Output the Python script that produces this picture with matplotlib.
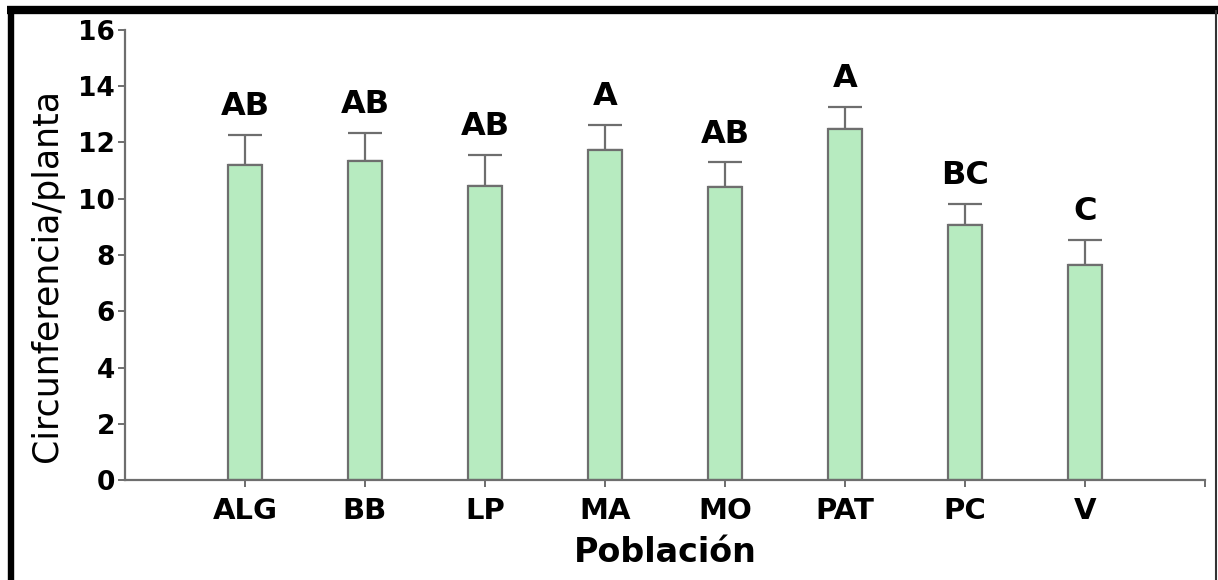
import numpy as np
import matplotlib.pyplot as plt
from matplotlib.lines import Line2D

# data
poblaciones = ['ALG', 'BB', 'LP', 'MA', 'MO', 'PAT', 'PC', 'V']
medias = [11.2, 11.35, 10.45, 11.72, 10.42, 12.48, 9.07, 7.64]
error_sup = [1.07, 0.99, 1.11, 0.90, 0.88, 0.78, 0.74, 0.89]
letras = ['AB', 'AB', 'AB', 'A', 'AB', 'A', 'BC', 'C']

plt.rcParams['font.family'] = ['DejaVu Sans']
plt.rcParams['font.weight'] = 'bold'

fig = plt.figure(figsize=(12.18, 5.8), dpi=100)
ax = fig.add_axes([0.1026, 0.1724, 0.8867, 0.7759])

x = np.arange(1, len(poblaciones) + 1)
gris = '#6e6e6e'
ax.bar(x, medias, width=0.29, color='#b7ebc0', edgecolor=gris, linewidth=1.6, zorder=2)
ax.errorbar(x, medias, yerr=[np.zeros(len(x)), error_sup], fmt='none',
            ecolor=gris, elinewidth=1.6, capsize=12.5, capthick=1.6, zorder=1)

for xi, m, e, l in zip(x, medias, error_sup, letras):
    ax.text(xi, m + e + 0.45, l, ha='center', va='bottom', fontsize=23,
            fontweight='bold')

ax.set_xlim(0, 9)
ax.set_ylim(0, 16)
ax.set_yticks(np.arange(0, 17, 2))
ax.set_xticks(x)
ax.set_xticklabels(poblaciones)
ax.set_xticks([9], minor=True)
ax.tick_params(axis='x', which='both', length=5, color=gris, width=1.4, labelsize=21, pad=7)
ax.tick_params(axis='y', length=5, color=gris, width=1.4, labelsize=19, pad=2)
for s in ['top', 'right']:
    ax.spines[s].set_visible(False)
for s in ['left', 'bottom']:
    ax.spines[s].set_color(gris)
    ax.spines[s].set_linewidth(1.6)

ax.set_xlabel('Población', fontsize=24, fontweight='bold', labelpad=8)
ax.set_ylabel('Circunferencia/planta', fontsize=25, fontweight='normal')
ax.yaxis.set_label_coords(-0.056, 0.455)

# marco negro alrededor de la figura
W, H = 1218.0, 580.0
fig.add_artist(Line2D([7 / W, 1.0], [1 - 10 / H, 1 - 10 / H], color='black',
                      linewidth=6.0, solid_capstyle='butt', transform=fig.transFigure))
fig.add_artist(Line2D([10.5 / W, 10.5 / W], [0, 1 - 10 / H], color='black',
                      linewidth=4.6, solid_capstyle='butt', transform=fig.transFigure))
fig.add_artist(Line2D([1216 / W, 1216 / W], [0, 1 - 10 / H], color='#333333',
                      linewidth=1.5, solid_capstyle='butt', transform=fig.transFigure))

fig.savefig('out.png', dpi=100)
